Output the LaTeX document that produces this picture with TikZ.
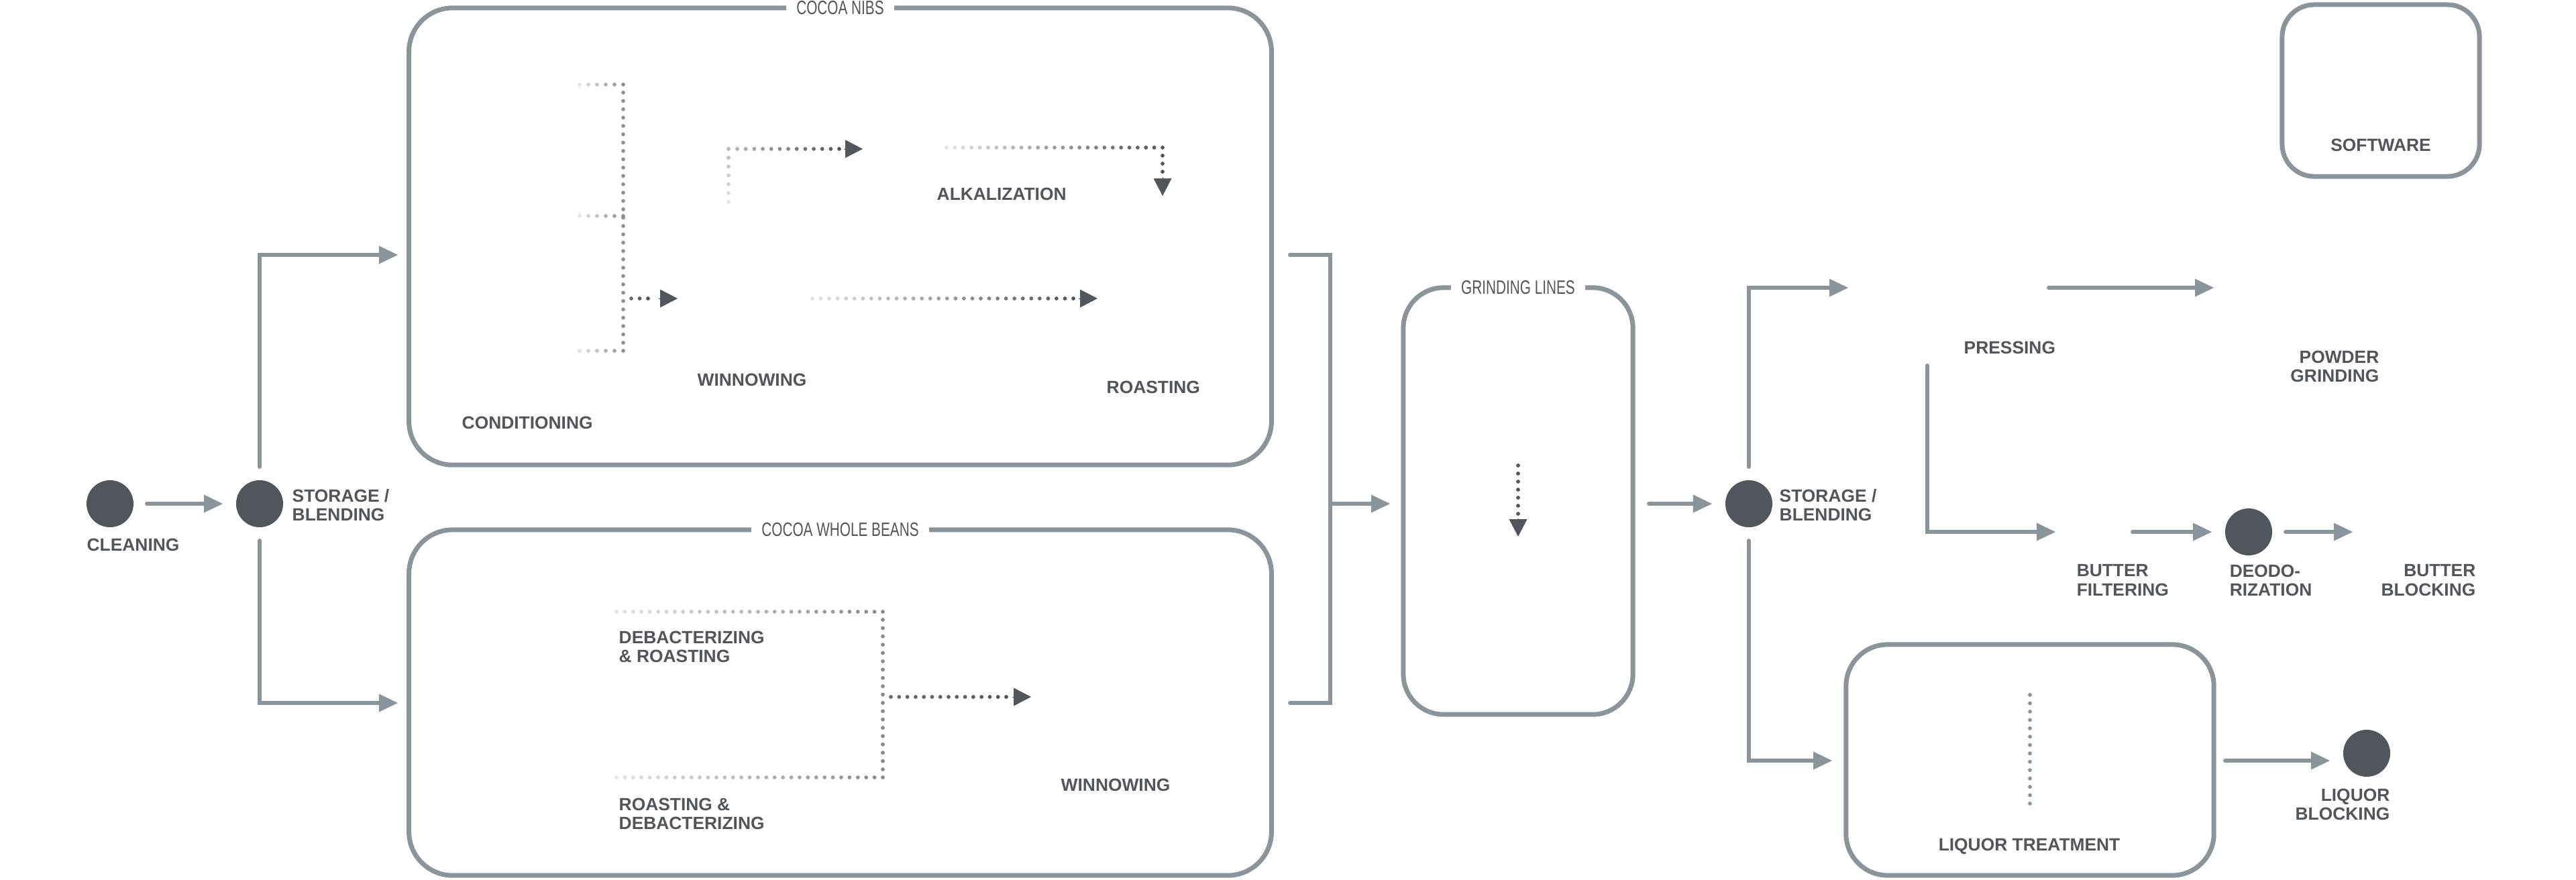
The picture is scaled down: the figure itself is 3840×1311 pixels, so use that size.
\documentclass[tikz,border=0pt]{standalone}
\usepackage{fontspec}
\setmainfont{Liberation Sans}
\newfontfamily\titlefont[FakeStretch=0.72]{Liberation Sans}
\usetikzlibrary{arrows.meta,calc}
\definecolor{lnc}{HTML}{8A949B}
\definecolor{dk}{HTML}{50565C}
\definecolor{lt}{HTML}{EAEAEA}
\definecolor{txc}{HTML}{50565C}
\def\dotcol{dk}
% dotted run: x1 y1 x2 y2 n p1 p2 (percent of dark colour)
\newcommand\dotrun[7]{%
  \foreach \i in {0,...,#5}{%
    \pgfmathsetmacro\dT{\i/#5}%
    \pgfmathsetmacro\dP{#6+(#7-#6)*\dT}%
    \fill[\dotcol!\dP!lt] ({#1+(#3-#1)*\dT},{#2+(#4-#2)*\dT}) circle[radius=0.029cm];
  }}
\begin{document}
\begin{tikzpicture}[x=0.01cm,y=-0.01cm,
  conn/.style={draw=lnc, line width=0.06cm, line cap=round, -{Triangle[length=0.28cm,width=0.27cm,line width=0pt]}},
  plain/.style={draw=lnc, line width=0.06cm, line cap=round},
  box/.style={draw=lnc, line width=0.07cm, rounded corners=0.65cm, inner sep=0pt, outer sep=0pt},
  dot/.style={circle, fill=dk, minimum size=0.7cm, inner sep=0pt, outer sep=0.2cm},
  lbl/.style={font=\fontsize{7.5pt}{8pt}\selectfont\bfseries, text=txc, inner sep=0pt},
  ttl/.style={font=\fontsize{8.2pt}{9pt}\selectfont\titlefont, text=txc, fill=white, inner xsep=0.15cm, inner ysep=0.03cm},
  dhead/.style={dk, line width=0.1pt, -{Triangle[length=0.26cm,width=0.27cm,line width=0pt]}}
]
\useasboundingbox[fill=white] (0,0) rectangle (3840,1311);

% boxes
\node[box, minimum width=12.85cm, minimum height=6.81cm] (nibs) at (1252.5,352.5) {};
\node[box, minimum width=12.85cm, minimum height=5.15cm] (beans) at (1252.5,1047.5) {};
\node[box, minimum width=3.42cm, minimum height=6.36cm, rounded corners=0.6cm] (grind) at (2263,747) {};
\node[box, minimum width=2.94cm, minimum height=2.56cm, rounded corners=0.48cm] (soft) at (3549,135) {};
\node[box, minimum width=5.48cm, minimum height=3.44cm, rounded corners=0.62cm] (liq) at (3026,1133) {};

\node[ttl] (nibsT) at (nibs.north) {COCOA NIBS};
\node[ttl] (beansT) at (beans.north) {COCOA WHOLE BEANS};
\node[ttl] (grindT) at (grind.north) {GRINDING LINES};

% circles
\node[dot] (clean) at (164,751) {};
\node[dot] (stor1) at (387,751) {};
\node[dot] (stor2) at (2607,751) {};
\node[dot] (deodo) at (3352,793) {};
\node[dot] (lblock) at (3528,1123) {};

% labels
\node[lbl, anchor=north west] (tClean) at (129,802) {CLEANING};
\node[lbl, anchor=north west, align=left] (tStor1) at (435,729) {STORAGE /\\BLENDING};
\node[lbl, anchor=north west] (tCond) at (688,620) {CONDITIONING};
\node[lbl, anchor=north west] (tWin1) at (1039,556) {WINNOWING};
\node[lbl, anchor=north west] (tAlk) at (1396,279) {ALKALIZATION};
\node[lbl, anchor=north west] (tRoast) at (1649,567) {ROASTING};
\node[lbl, anchor=north west, align=left] (tDebR) at (922,940) {DEBACTERIZING\\\&~ROASTING};
\node[lbl, anchor=north west, align=left] (tRDeb) at (922,1189) {ROASTING \&\\DEBACTERIZING};
\node[lbl, anchor=north west] (tWin2) at (1581,1160) {WINNOWING};
\node[lbl, anchor=north west, align=left] (tStor2) at (2652,729) {STORAGE /\\BLENDING};
\node[lbl, anchor=north west] (tPress) at (2927,508) {PRESSING};
\node[lbl, anchor=north east, align=right] (tPowder) at (3547,522) {POWDER\\GRINDING};
\node[lbl, anchor=north] (tSoft) at (3549,206) {SOFTWARE};
\node[lbl, anchor=north west, align=left] (tFilt) at (3095,841) {BUTTER\\FILTERING};
\node[lbl, anchor=north west, align=left] (tDeodo) at (3323,841) {DEODO-\\RIZATION};
\node[lbl, anchor=north east, align=right] (tBBlock) at (3691,841) {BUTTER\\BLOCKING};
\node[lbl, anchor=north] (tLiq) at (3025,1249) {LIQUOR TREATMENT};
\node[lbl, anchor=north east, align=right] (tLBlock) at (3563,1175) {LIQUOR\\BLOCKING};

% dotted flows inside cocoa nibs
\dotrun{864}{126}{929}{126}{5}{5}{60}
\dotrun{864}{322}{929}{322}{5}{5}{60}
\dotrun{864}{523}{929}{523}{5}{5}{60}
\dotrun{929}{138}{929}{511}{30}{60}{60}
\dotrun{941}{445}{966}{445}{2}{85}{100}
\draw[dhead] (982,445) -- (1010,445);
\dotrun{1086}{301}{1086}{222}{6}{5}{35}
\dotrun{1099}{222}{1251}{222}{12}{38}{100}
\draw[dhead] (1258,222) -- (1286,222);
\dotrun{1411}{220}{1733}{220}{26}{5}{100}
\dotrun{1733}{232}{1733}{256}{2}{100}{100}
\draw[dhead] (1733,264) -- (1733,292);
\dotrun{1211}{445}{1600}{445}{31}{5}{100}
\draw[dhead] (1608,445) -- (1636,445);

% dotted flows inside cocoa whole beans
\dotrun{919}{912}{1316}{912}{32}{5}{65}
\dotrun{919}{1159}{1316}{1159}{32}{5}{65}
\dotrun{1316}{924}{1316}{1147}{18}{65}{65}
\dotrun{1328}{1039}{1500}{1039}{14}{85}{100}
\draw[dhead] (1509,1039) -- (1537,1039);

% grinding lines
\dotrun{2263}{694}{2263}{766}{6}{100}{100}
\draw[dhead] (2263,773) -- (2263,800);

% liquor treatment
\begin{scope}
\def\dotcol{lnc}
\dotrun{3026}{1036}{3026}{1198}{13}{100}{100}
\end{scope}

% connectors
\coordinate (nibsIn) at (593,380);
\coordinate (beansIn) at (593,1048);
\coordinate (nibsOut) at (1923,380);
\coordinate (beansOut) at (1923,1048);
\coordinate (join) at (1983,751);
\coordinate (grindIn) at (2072,751);
\coordinate (grindOut) at (2458,751);
\coordinate (pressIn) at (2755,429);
\coordinate (liqIn) at (2731,1134);
\coordinate (pressOut) at (3054,429);
\coordinate (powderIn) at (3300,429);
\coordinate (pressDown) at (2873,545);
\coordinate (filterIn) at (3064,793);
\coordinate (filterOut) at (3179,793);
\coordinate (bblockIn) at (3507,793);
\coordinate (liqOut) at (3317,1134);
\coordinate (lblockIn) at (3473,1134);

\draw[conn] (clean) -- (stor1);
\draw[conn] (stor1.north) |- (nibsIn);
\draw[conn] (stor1.south) |- (beansIn);
\draw[plain] (nibsOut) -| (join) |- (beansOut);
\draw[conn] (join) -- (grindIn);
\draw[conn] (grindOut) -- (stor2);
\draw[conn] (stor2.north) |- (pressIn);
\draw[conn] (stor2.south) |- (liqIn);
\draw[conn] (pressOut) -- (powderIn);
\draw[conn] (pressDown) |- (filterIn);
\draw[conn] (filterOut) -- (deodo);
\draw[conn] (deodo) -- (bblockIn);
\draw[conn] (liqOut) -- (lblockIn);
\end{tikzpicture}
\end{document}
